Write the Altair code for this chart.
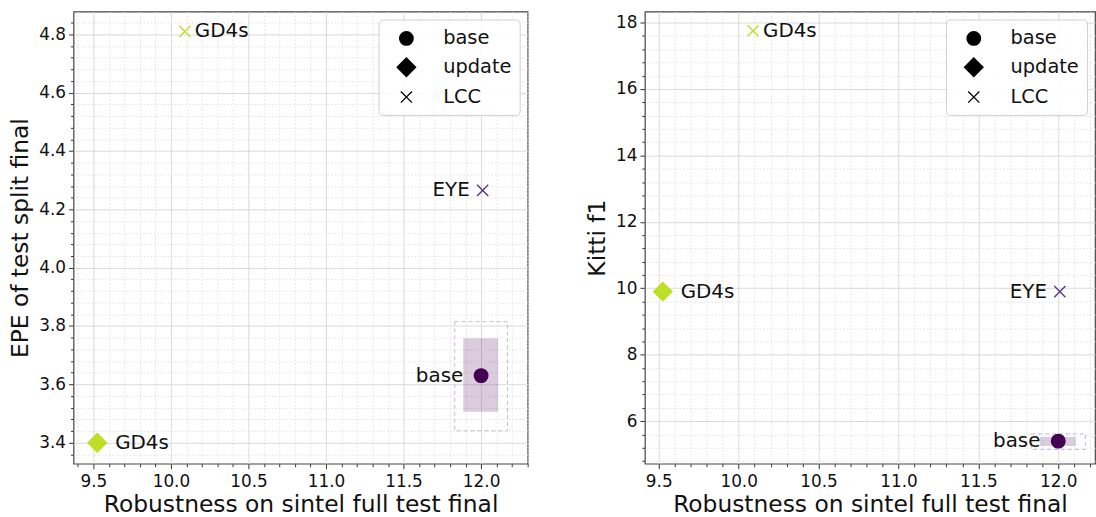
import altair as alt
import numpy as np
import pandas as pd

# ---- data -------------------------------------------------------------
methods = ["base", "GD4s", "GD4s", "EYE"]
kinds = ["base", "update", "LCC", "LCC"]
robustness = [12.00, 9.525, 10.09, 12.01]
epe_final = [3.63, 3.40, 4.81, 4.265]
kitti_f1 = [5.40, 9.90, 17.75, 9.90]
label_dx = [-18, 18, 10, -13]

# spread of the base runs (inner: shaded, outer: dashed)
box_robustness = [11.885, 12.11]
outer_robustness = [11.83, 12.17]
box_epe = [3.506, 3.758]
outer_epe = [3.441, 3.815]
box_f1 = [5.25, 5.52]
outer_f1 = [5.15, 5.62]

kind_order = ["base", "update", "LCC"]
method_order = ["base", "GD4s", "EYE"]
method_colors = ["#440154", "#bddf26", "#5a3585"]

FONT = "DejaVu Sans"

points = pd.DataFrame({
    "method": methods, "kind": kinds, "robustness": robustness,
    "epe": epe_final, "f1": kitti_f1, "dx": label_dx,
})

shape_paths = [
    "M-0.68,0A0.68,0.68,0,1,1,0.68,0A0.68,0.68,0,1,1,-0.68,0Z",
    "M-0.93,0L0,-0.93L0.93,0L0,0.93Z",
    "M-0.56,-0.56L0.56,0.56M0.56,-0.56L-0.56,0.56",
]


def axis(lo, hi, minor, major, fmt, title, label_pad, title_pad):
    start = np.ceil(lo / minor - 1e-9) * minor
    vals = [float(round(v, 4)) for v in np.arange(start, hi + 1e-9, minor)]
    test = f"abs(datum.value / {major} - round(datum.value / {major})) < 1e-6"
    return alt.Axis(
        values=vals,
        title=title,
        labelExpr=f"({test}) ? format(datum.value, '{fmt}') : ''",
        tickSize={"condition": {"test": test, "value": 5}, "value": 3},
        gridDash={"condition": {"test": test, "value": [1, 0]}, "value": [1.5, 2]},
        gridColor={"condition": {"test": test, "value": "#d6d6d6"}, "value": "#e2e2e2"},
        gridWidth=1,
        domain=False,
        tickColor="#333333",
        labelFont=FONT, labelFontSize=17, labelColor="#111111",
        titleFont=FONT, titleFontSize=23.5, titleColor="#111111",
        titleFontWeight="normal",
        labelFlush=False, labelOverlap=False,
        labelPadding=label_pad, titlePadding=title_pad,
    )


def panel(ycol, ylo, yhi, yminor, ymajor, yfmt, ytitle, xlo, xhi, box_y, outer_y, width, height):
    xs = alt.Scale(domain=[xlo, xhi], nice=False, zero=False)
    ys = alt.Scale(domain=[ylo, yhi], nice=False, zero=False)
    xa = axis(xlo, xhi, 0.1, 0.5, ".1f", "Robustness on sintel full test final", 5, 3)
    ya = axis(ylo, yhi, yminor, ymajor, yfmt, ytitle, 3, 6)

    boxes = pd.DataFrame({
        "x0": [box_robustness[0], outer_robustness[0]],
        "x1": [box_robustness[1], outer_robustness[1]],
        "y0": [box_y[0], outer_y[0]],
        "y1": [box_y[1], outer_y[1]],
        "part": ["inner", "outer"],
    })
    base = alt.Chart(boxes)
    inner = base.transform_filter("datum.part == 'inner'").mark_rect(
        color="#440154", opacity=0.2
    ).encode(
        x=alt.X("x0:Q", scale=xs, axis=xa), x2="x1:Q",
        y=alt.Y("y0:Q", scale=ys, axis=ya), y2="y1:Q",
    )
    outer = base.transform_filter("datum.part == 'outer'").mark_rect(
        filled=False, color="#c8b8cf", strokeDash=[4, 3], strokeWidth=1
    ).encode(
        x=alt.X("x0:Q", scale=xs, axis=xa), x2="x1:Q",
        y=alt.Y("y0:Q", scale=ys, axis=ya), y2="y1:Q",
    )

    cscale = alt.Scale(domain=method_order, range=method_colors)
    marks = alt.Chart(points).mark_point(
        filled=True, size=400, strokeWidth=1.4, opacity=1
    ).encode(
        x=alt.X("robustness:Q", scale=xs, axis=xa),
        y=alt.Y(f"{ycol}:Q", scale=ys, axis=ya),
        shape=alt.Shape(
            "kind:N",
            scale=alt.Scale(domain=kind_order, range=shape_paths),
            legend=alt.Legend(
                title=None, orient="top-right", offset=8,
                symbolSize=400, symbolFillColor="black", symbolStrokeColor="black",
                symbolStrokeWidth=1.3, symbolOffset=9,
                labelFont=FONT, labelFontSize=19.5, labelColor="#111111",
                labelOffset=26, rowPadding=7, padding=8,
                fillColor="rgba(255,255,255,0.85)", strokeColor="#d0d0d0",
                cornerRadius=4,
            ),
        ),
        fill=alt.Fill("method:N", scale=cscale, legend=None),
        stroke=alt.Stroke("method:N", scale=cscale, legend=None),
    )

    labels = []
    for dx in sorted(set(label_dx)):
        labels.append(
            alt.Chart(points).transform_filter(f"datum.dx == {dx}").mark_text(
                align="left" if dx > 0 else "right", baseline="middle", dx=dx,
                font=FONT, fontSize=20, color="#111111",
            ).encode(
                x=alt.X("robustness:Q", scale=xs, axis=xa),
                y=alt.Y(f"{ycol}:Q", scale=ys, axis=ya),
                text="method:N",
            )
        )
    return alt.layer(inner, outer, marks, *labels).properties(width=width, height=height)


left = panel("epe", 3.328, 4.878, 0.04, 0.2, ".1f", "EPE of test split final",
             9.372, 12.30, box_epe, outer_epe, 457, 455)
right = panel("f1", 4.72, 18.33, 0.4, 2, "d", "Kitti f1",
              9.413, 12.23, box_f1, outer_f1, 453, 455)

chart = alt.hconcat(left, right, spacing=55).resolve_scale(
    shape="independent", fill="independent", stroke="independent"
).resolve_legend(shape="independent").properties(
    padding={"left": 8, "top": 9, "right": 0, "bottom": 0},
    background="white",
).configure_view(stroke="#444444", strokeWidth=1.2)

chart.save("out.html", embed_options={"renderer": "svg", "actions": False})
